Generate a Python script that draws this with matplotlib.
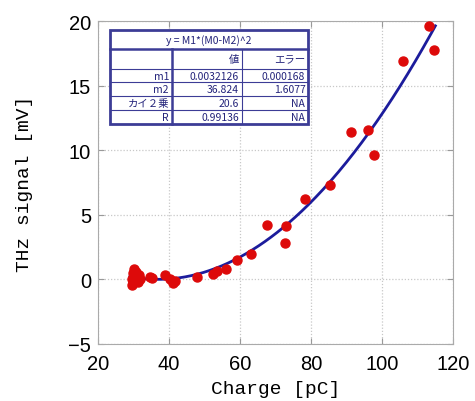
import numpy as np
import matplotlib.pyplot as plt

# 測定データ (Charge [pC], THz signal [mV])
charge = [29.5, 29.7, 29.8, 30.0, 30.2, 30.3, 30.5, 30.8, 31.0, 31.3, 31.5, 32.0,
          34.8, 35.1, 38.9, 40.3, 41.1, 41.7, 47.8, 52.3, 53.4, 56.1, 59.1, 63.1,
          67.7, 72.7, 72.9, 78.3, 85.4, 91.3, 96.1, 97.6, 105.9, 113.2, 114.7]
signal = [0.0, -0.4, 0.5, -0.3, 0.3, 0.8, -0.1, 0.6, 0.1, -0.2, 0.3, 0.0,
          0.15, 0.1, 0.3, 0.0, -0.3, -0.15, 0.15, 0.4, 0.67, 0.8, 1.5, 2.0,
          4.2, 2.85, 4.1, 6.2, 7.3, 11.4, 11.6, 9.6, 16.9, 19.6, 17.8]

# フィット結果
m1 = 0.0032126
m2 = 36.824
fit_title = "y = M1*(M0-M2)^2"
col_header = ["", "値", "エラー"]
row_names = ["m1", "m2", "カイ２乗", "R"]
row_vals = ["0.0032126", "36.824", "20.6", "0.99136"]
row_errs = ["0.000168", "1.6077", "NA", "NA"]

num_font = ["Liberation Sans", "DejaVu Sans"]
lab_font = ["Liberation Mono", "DejaVu Sans Mono"]
jp_font = ["Noto Sans CJK JP", "DejaVu Sans"]

fig = plt.figure(figsize=(4.75, 4.02), dpi=100)
ax = fig.add_axes([0.206, 0.142, 0.748, 0.803])

xf = np.linspace(29, 115, 200)
ax.plot(xf, m1 * (xf - m2) ** 2, color="#1c1c9c", linewidth=2.0, zorder=3)
ax.plot(charge, signal, "o", color="#dd0a0a", markersize=6.5, zorder=4)

ax.set_xlim(20, 120)
ax.set_ylim(-5, 20)
ax.set_xticks([20, 40, 60, 80, 100, 120])
ax.set_yticks([-5, 0, 5, 10, 15, 20])
ax.grid(True, linestyle=(0, (1, 1.5)), color="#c8c8c8", linewidth=0.9)
ax.tick_params(direction="in", length=4, color="#999999", top=True, right=True,
               labelsize=14.5)
ax.tick_params(axis="x", pad=7)
ax.tick_params(axis="y", pad=5)
for lbl in ax.get_xticklabels() + ax.get_yticklabels():
    lbl.set_family(num_font)
for s in ax.spines.values():
    s.set_color("#aaaaaa")

ax.set_xlabel("Charge [pC]", fontsize=14, family=lab_font, labelpad=5)
ax.set_ylabel("THz signal [mV]", fontsize=14, family=lab_font, labelpad=25)

# 結果テーブル
tcol = "#3c3c96"
txt = "#23237a"
xs = [0.034, 0.208, 0.405, 0.592]
ys = [0.973, 0.913, 0.853, 0.810, 0.767, 0.724, 0.681]
tr = ax.transAxes
ax.add_patch(plt.Rectangle((xs[0], ys[-1]), xs[-1] - xs[0], ys[0] - ys[-1],
                           transform=tr, facecolor="white", edgecolor=tcol,
                           linewidth=2.0, zorder=5))
for i, yv in enumerate(ys[1:-1]):
    ax.plot([xs[0], xs[-1]], [yv, yv], transform=tr, color=tcol,
            linewidth=1.8 if i == 0 else 0.8, zorder=6)
ax.plot([xs[1], xs[1]], [ys[1], ys[-1]], transform=tr, color=tcol, linewidth=1.8, zorder=6)
ax.plot([xs[2], xs[2]], [ys[1], ys[-1]], transform=tr, color=tcol, linewidth=0.8, zorder=6)

ax.text((xs[0] + xs[-1]) / 2, (ys[0] + ys[1]) / 2, fit_title, transform=tr,
        ha="center", va="center", fontsize=7.5, color=txt, family=jp_font, zorder=7)
rows = [col_header] + [[n, v, e] for n, v, e in zip(row_names, row_vals, row_errs)]
for r, row in enumerate(rows):
    yc = (ys[r + 1] + ys[r + 2]) / 2
    for c, val in enumerate(row):
        ax.text(xs[c + 1] - 0.008, yc, val, transform=tr, ha="right", va="center",
                fontsize=7.5, color=txt, family=jp_font, zorder=7)

fig.savefig("out.png", dpi=100)
